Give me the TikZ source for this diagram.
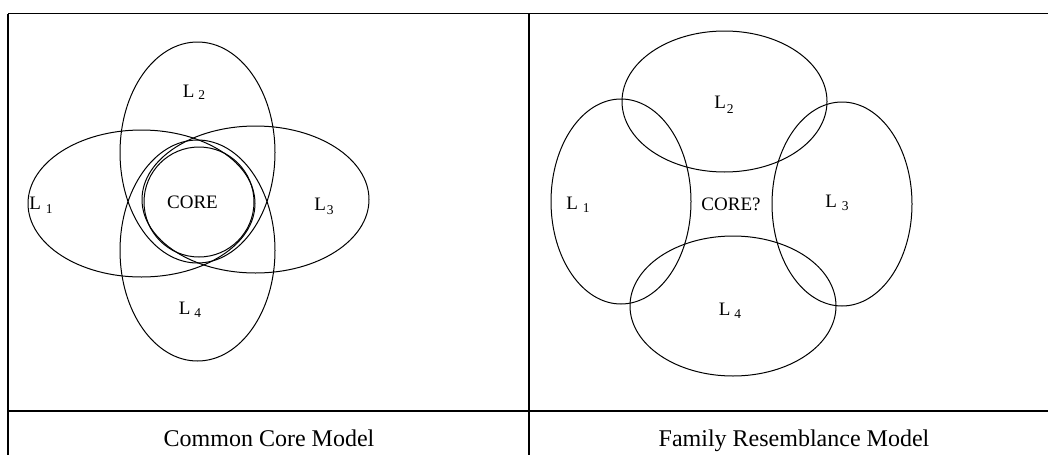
\documentclass[tikz,border=0pt]{standalone}
\usepackage{fontspec}
\setmainfont{Liberation Serif}
\usetikzlibrary{shapes.geometric}
% L with a lowered index: #1 index, #2 gap, #3 drop
\newcommand{\Lsub}[3]{L\kern#2pt\raisebox{-#3pt}{\fontsize{13.5}{13.5}\selectfont #1}}
\begin{document}
\begin{tikzpicture}[x=1pt,y=-1pt,
  rule/.style={line width=1.3pt},
  oval/.style={ellipse,draw,line width=1pt,inner sep=0pt},
  lbl/.style={font=\fontsize{19}{19}\selectfont,inner sep=0pt},
  caption/.style={font=\fontsize{24}{24}\selectfont,inner sep=0pt,anchor=base}]
\useasboundingbox (0,0) rectangle (1048,455);
\fill[white] (0,0) rectangle (1048,455);

% table rules
\coordinate (tl) at (8,13.5);
\coordinate (tr) at (1048,13.5);
\coordinate (ml) at (8,411);
\coordinate (mr) at (1048,411);
\coordinate (bl) at (8,455);
\coordinate (ct) at (529,13.5);
\coordinate (cb) at (529,455);
\draw[rule] (tl) -- (tr);
\draw[rule] (ml) -- (mr);
\draw[rule] (tl) -- (bl);
\draw[rule] (ct) -- (cb);

% common core model
\node[oval,minimum width=155pt,minimum height=221pt] (a2) at (197.5,152.5) {};
\node[oval,minimum width=155pt,minimum height=221pt] (a4) at (197.5,250.5) {};
\node[oval,minimum width=227pt,minimum height=147pt] (a1) at (141.5,203.5) {};
\node[oval,minimum width=227pt,minimum height=147pt] (a3) at (255.5,199.5) {};
\node[oval,minimum width=110pt,minimum height=110pt] (acore) at (199,202) {};

\node[lbl] (ta1) at (41,205) {\Lsub{1}{5}{4}};
\node[lbl] (ta2) at (194,92) {\Lsub{2}{4}{2}};
\node[lbl] (ta3) at (324,206) {\Lsub{3}{1}{4}};
\node[lbl] (ta4) at (190,310) {\Lsub{4}{4}{3}};
\node[lbl] (tacore) at (192.5,202.5) {CORE};

% family resemblance model
\node[oval,minimum width=205pt,minimum height=141pt] (b2) at (724.5,101.5) {};
\node[oval,minimum width=140pt,minimum height=205pt] (b1) at (621,201.5) {};
\node[oval,minimum width=140pt,minimum height=204pt] (b3) at (842,204) {};
\node[oval,minimum width=206pt,minimum height=140pt] (b4) at (733,306) {};

\node[lbl] (tb1) at (578,205) {\Lsub{1}{5}{3}};
\node[lbl] (tb2) at (724,105) {\Lsub{2}{1}{5}};
\node[lbl] (tb3) at (837,203) {\Lsub{3}{5}{3}};
\node[lbl] (tb4) at (730,311) {\Lsub{4}{4}{3}};
\node[lbl] (tbcore) at (731,204) {CORE?};

% captions
\node[caption] (cap1) at (269,446) {Common Core Model};
\node[caption] (cap2) at (794,446) {Family Resemblance Model};
\end{tikzpicture}
\end{document}
